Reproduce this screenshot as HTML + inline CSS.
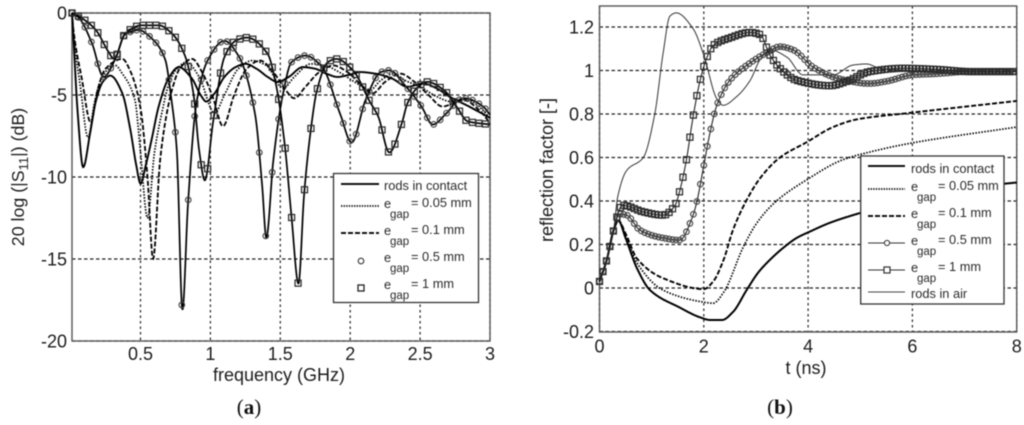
<!DOCTYPE html>
<html lang="en">
<head>
<meta charset="utf-8">
<title>S11 and reflection factor charts</title>
<style>
html,body{margin:0;padding:0;background:#fff;width:1024px;height:425px;overflow:hidden}
svg{display:block;position:absolute;left:0;top:0;filter:blur(.5px)}
text{font-family:"Liberation Sans",sans-serif;fill:#1c1c1c}
.leg{font-size:12.8px;fill:#2a2a2a}
.sub{font-size:11.5px;fill:#2a2a2a}
.cap{font-family:"Liberation Serif",serif;font-size:21px;fill:#111}
</style>
</head>
<body>
<svg id="figure" width="1024" height="425" viewBox="0 0 1024 425" xmlns="http://www.w3.org/2000/svg">
  <g id="chartA"></g>
  <g id="chartB"></g>

  <text transform="translate(24,177) rotate(-90)" text-anchor="middle" font-size="17.8">20 log (|S<tspan font-size="13" dy="4">11</tspan><tspan dy="-4">|) (dB)</tspan></text>
  <text x="279" y="381" text-anchor="middle" font-size="18">frequency (GHz)</text>
  <text class="cap" x="249" y="414" text-anchor="middle">(<tspan font-weight="bold">a</tspan>)</text>

  <text transform="translate(553,170) rotate(-90)" text-anchor="middle" font-size="18">reflection factor [-]</text>
  <text x="806" y="374" text-anchor="middle" font-size="18">t (ns)</text>
  <text class="cap" x="780" y="414" text-anchor="middle">(<tspan font-weight="bold">b</tspan>)</text>

  <g>
    <rect x="333.5" y="173.5" width="145" height="129" fill="#fff" stroke="#333" stroke-width="1.3"/>
    <g>
      <line x1="341" x2="379" y1="184" y2="184" stroke="#111" stroke-width="2"/>
      <text class="leg" x="384" y="190">rods in contact</text>
    </g>
    <g>
      <line x1="341" x2="379" y1="206" y2="206" stroke="#111" stroke-width="1.8" stroke-dasharray="1.4 1.2"/>
      <text class="leg" x="384" y="208">e</text><text class="sub" x="390" y="218">gap</text><text class="leg" x="411" y="207">= 0.05 mm</text>
    </g>
    <g>
      <line x1="341" x2="379" y1="233" y2="233" stroke="#111" stroke-width="2" stroke-dasharray="5 2"/>
      <text class="leg" x="384" y="235">e</text><text class="sub" x="390" y="245">gap</text><text class="leg" x="411" y="234">= 0.1 mm</text>
    </g>
    <g>
      <circle cx="361" cy="261" r="2.8" fill="none" stroke="#333" stroke-width="1.1"/>
      <text class="leg" x="384" y="262">e</text><text class="sub" x="390" y="272">gap</text><text class="leg" x="411" y="261">= 0.5 mm</text>
    </g>
    <g>
      <rect x="358" y="285" width="6" height="6" fill="none" stroke="#222" stroke-width="1.3"/>
      <text class="leg" x="384" y="289">e</text><text class="sub" x="390" y="299">gap</text><text class="leg" x="411" y="288">= 1 mm</text>
    </g>
  </g>

  <g>
    <rect x="860.7" y="156" width="143.3" height="148" fill="#fff" stroke="#333" stroke-width="1.3"/>
    <g>
      <line x1="868" x2="905" y1="166" y2="166" stroke="#111" stroke-width="2"/>
      <text class="leg" x="911" y="173">rods in contact</text>
    </g>
    <g>
      <line x1="868" x2="905" y1="189" y2="189" stroke="#111" stroke-width="1.8" stroke-dasharray="1.4 1.2"/>
      <text class="leg" x="911" y="191">e</text><text class="sub" x="917" y="201">gap</text><text class="leg" x="938" y="190">= 0.05 mm</text>
    </g>
    <g>
      <line x1="868" x2="905" y1="216" y2="216" stroke="#111" stroke-width="2" stroke-dasharray="5 2"/>
      <text class="leg" x="911" y="218">e</text><text class="sub" x="917" y="228">gap</text><text class="leg" x="938" y="217">= 0.1 mm</text>
    </g>
    <g>
      <line x1="868" x2="905" y1="243" y2="243" stroke="#333" stroke-width="1"/>
      <circle cx="887" cy="243" r="2.6" fill="#fff" stroke="#333" stroke-width="1"/>
      <text class="leg" x="911" y="245">e</text><text class="sub" x="917" y="255">gap</text><text class="leg" x="938" y="244">= 0.5 mm</text>
    </g>
    <g>
      <line x1="868" x2="905" y1="270" y2="270" stroke="#333" stroke-width="1"/>
      <rect x="884" y="267" width="6" height="6" fill="#fff" stroke="#333" stroke-width="1.2"/>
      <text class="leg" x="911" y="272">e</text><text class="sub" x="917" y="282">gap</text><text class="leg" x="938" y="271">= 1 mm</text>
    </g>
    <g>
      <line x1="868" x2="905" y1="292" y2="292" stroke="#444" stroke-width="1"/>
      <text class="leg" x="911" y="298">rods in air</text>
    </g>
  </g>
</svg>
<script>
// ---------- Chart (a) data ----------
const aXTicks = [0.5, 1, 1.5, 2, 2.5, 3];
const aYTicks = [0, -5, -10, -15, -20];
const aFreqContact = [.01,.02,.05,.09,.14,.18,.23,.284,.37,.427,.47,.5,.54,.58,.63,.7,.773,.868,.93,.97,1.03,1.1,1.18,1.25,1.33,1.41,1.48,1.56,1.66,1.75,1.83,1.91,2.0,2.07,2.18,2.3,2.41,2.52,2.62,2.71,2.85,3.0];
const aDbContact = [0,-1.5,-6,-9.4,-7.3,-5.4,-4.2,-3.82,-4.9,-7.1,-9.3,-10.4,-9.2,-7.7,-5.7,-4,-3.3,-4,-5,-5.4,-4.9,-3.9,-3.3,-3.1,-3.4,-3.9,-4.2,-3.9,-3.3,-3.4,-3.7,-3.9,-3.75,-3.6,-3.7,-4,-4.5,-4.3,-4.6,-5.1,-5.7,-6.4];
const aFreqGap005 = [.01,.02,.07,.125,.17,.23,.32,.37,.46,.5,.55,.6,.66,.7,.76,.83,.92,1.03,1.1,1.2,1.3,1.4,1.52,1.6,1.72,1.82,1.92,2.05,2.14,2.22,2.31,2.39,2.5,2.62,2.72,2.82,2.92,3];
const aDbGap005 = [0,-1.2,-4.5,-7.6,-5.5,-3.8,-3.2,-3.7,-5.3,-8.5,-12.5,-8.5,-5.8,-4.4,-3.4,-3,-3.9,-6.1,-5,-3.4,-2.9,-3.2,-4.6,-3.9,-3.1,-3.2,-3.6,-4.3,-4.7,-4.1,-3.7,-4.1,-4.5,-5.1,-5.4,-5.2,-5.7,-6.4];
const aFreqGap01 = [.01,.02,.08,.145,.19,.25,.37,.43,.5,.55,.59,.64,.68,.725,.78,.87,.94,1.02,1.09,1.17,1.26,1.355,1.45,1.53,1.6,1.68,1.78,1.88,1.98,2.08,2.16,2.25,2.36,2.46,2.56,2.66,2.74,2.81,2.92,3];
const aDbGap01 = [0,-1,-4,-6.7,-4.8,-3.4,-2.8,-3.6,-5.8,-10,-15,-9,-6.5,-4.7,-3.4,-2.8,-3.6,-5.2,-6.9,-5,-3.4,-2.9,-3.6,-4.6,-5.2,-4.5,-3.6,-3.2,-3.6,-4.4,-4.9,-4.2,-3.7,-4.2,-5,-5.7,-5.5,-5.3,-5.9,-6.7];
const aFreqGap05 = [.01,.06,.153,.236,.32,.39,.487,.58,.677,.72,.76,.8,.84,.9,.98,1.1,1.2,1.32,1.37,1.4,1.45,1.52,1.58,1.68,1.8,1.93,2.01,2.11,2.22,2.28,2.4,2.51,2.59,2.69,2.78,2.82,2.95,3];
const aDbGap05 = [0,-.3,-1.85,-3.9,-2.8,-1.3,-1.04,-1.55,-2.85,-5.2,-8.4,-18.1,-11.6,-5.5,-2.9,-1.7,-2.6,-6.2,-10.5,-13.7,-9,-4.9,-3,-2.6,-3.3,-6.2,-7.9,-5.3,-3.6,-3.5,-4.5,-5.7,-6.8,-6.1,-5.3,-5.2,-5.7,-6.2];
const aFreqGap1 = [.01,.058,.177,.27,.31,.39,.51,.63,.725,.82,.88,.92,.96,1.02,1.1,1.18,1.26,1.41,1.47,1.53,1.58,1.63,1.67,1.72,1.76,1.84,1.9,2.02,2.14,2.2,2.28,2.37,2.41,2.5,2.55,2.67,2.76,2.84,3];
const aDbGap1 = [0,-.2,-1,-2.35,-2.8,-1.25,-.75,-.75,-1.25,-2.65,-5,-8.4,-10.2,-6.6,-2.7,-1.7,-1.5,-2.5,-4.4,-7.9,-12.4,-16.5,-11.1,-7,-4.8,-3,-2.8,-3.5,-5.4,-6.3,-8.5,-6.7,-5.5,-4.4,-4.2,-4.7,-5.7,-6.6,-6.8];

// ---------- Chart (b) data ----------
const bXTicks = [0, 2, 4, 6, 8];
const bYTicks = [-0.2, 0, 0.2, 0.4, 0.6, 0.8, 1, 1.2];
const bYTickLabels = ["-0.2", "0", "0.2", "0.4", "0.6", "0.8", "1", "1.2"];
const bTimeContact = [0,.14,.27,.36,.5,.72,.97,1.54,1.93,2.12,2.35,2.56,2.82,3.04,3.27,3.52,3.78,4.04,4.42,5,6,7,7.6,8];
const bValContact = [.03,.13,.265,.31,.23,.09,-.01,-.09,-.135,-.147,-.147,-.11,-.01,.07,.13,.184,.23,.26,.3,.345,.41,.45,.475,.485];
const bTimeGap005 = [0,.14,.27,.36,.5,.72,1.22,2,2.18,2.38,2.76,3.02,3.37,3.97,4.67,5.18,5.95,8];
const bValGap005 = [.03,.13,.265,.31,.24,.115,-.01,-.065,-.07,-.02,.19,.3,.395,.497,.59,.625,.665,.74];
const bTimeGap01 = [0,.14,.27,.36,.5,.72,1.22,2,2.18,2.38,2.56,2.79,3.08,3.46,3.97,4.48,4.93,5.95,8];
const bValGap01 = [.03,.13,.265,.31,.25,.135,.045,-.005,.03,.13,.267,.39,.505,.6,.67,.74,.775,.805,.86];
const bTimeGap05 = [0,.14,.27,.38,.52,.78,1.22,1.54,1.78,1.86,1.99,2.12,2.25,2.5,2.89,3.23,3.46,3.71,4.1,4.55,5.18,5.5,6.01,6.47,7.1,8];
const bValGap05 = [.03,.13,.265,.34,.335,.265,.23,.22,.325,.39,.55,.715,.84,.955,1.035,1.085,1.11,1.095,1.015,.965,.94,.95,.98,.985,.995,.995];
const bTimeGap1 = [0,.14,.27,.4,.45,.84,1.22,1.45,1.52,1.66,1.79,1.93,2.06,2.18,2.5,2.89,3.08,3.27,3.46,3.78,4.42,4.74,5.18,5.82,6.47,7.1,8];
const bValGap1 = [.03,.13,.265,.37,.38,.35,.335,.38,.43,.58,.78,.955,1.06,1.115,1.15,1.175,1.165,1.07,1.01,.955,.93,.95,.995,1.01,1.005,.995,.995];
const bTimeAir = [0,.14,.27,.35,.52,.84,1.06,1.22,1.35,1.47,1.8,2,2.25,2.37,2.63,2.89,3.08,3.27,3.6,3.9,4.48,4.86,5.12,5.38,5.95,8];
const bValAir = [.03,.13,.265,.42,.54,.6,.8,1.08,1.25,1.265,1.19,1.07,.87,.84,.88,.955,1.05,1.095,1.06,.98,.98,1.025,1.03,1.01,1,.995];

// ---------- Helpers ----------
const NS = 'http://www.w3.org/2000/svg';
function make(tag, parent, attrs) {
  const el = document.createElementNS(NS, tag);
  for (const k in attrs) el.setAttribute(k, attrs[k]);
  parent.appendChild(el);
  return el;
}
function pchip(xs, ys) {
  const n = xs.length, h = [], d = [], m = new Array(n);
  for (let i = 0; i < n - 1; i++) { h[i] = xs[i+1] - xs[i]; d[i] = (ys[i+1] - ys[i]) / h[i]; }
  m[0] = d[0]; m[n-1] = d[n-2];
  for (let i = 1; i < n - 1; i++) {
    if (d[i-1] * d[i] <= 0) m[i] = 0;
    else {
      const w1 = 2*h[i] + h[i-1], w2 = h[i] + 2*h[i-1];
      m[i] = (w1 + w2) / (w1 / d[i-1] + w2 / d[i]);
    }
  }
  return function (x) {
    let i = 0;
    while (i < n - 2 && x > xs[i+1]) i++;
    const t = (x - xs[i]) / h[i], t2 = t*t, t3 = t2*t;
    return (2*t3 - 3*t2 + 1)*ys[i] + (t3 - 2*t2 + t)*h[i]*m[i] + (-2*t3 + 3*t2)*ys[i+1] + (t3 - t2)*h[i]*m[i+1];
  };
}
function drawCurve(group, sx, sy, xs, ys, style) {
  const f = pchip(xs, ys), a = xs[0], b = xs[xs.length - 1];
  let d = '';
  const N = 900;
  for (let i = 0; i <= N; i++) {
    const x = a + (b - a) * i / N;
    d += (i ? 'L' : 'M') + sx(x).toFixed(2) + ' ' + sy(f(x)).toFixed(2);
  }
  const path = make('path', group, {d: d, fill: 'none', stroke: style.color, 'stroke-width': style.width, 'stroke-dasharray': style.dash || 'none'});
  
  
  if (style.marker) {
    for (let x = a; x <= b + 1e-6; x += style.step) {
      const px = sx(x), py = sy(f(x));
      let mk;
      if (style.marker === 'circle') {
        mk = make('circle', group, {cx: px, cy: py, r: 2.8, fill: 'none', stroke: '#444', 'stroke-width': 1.15});
      } else {
        mk = make('rect', group, {x: px - 3, y: py - 3, width: 6, height: 6, fill: 'none', stroke: '#2a2a2a', 'stroke-width': 1.25});
      }
      
      
    }
  }
}
function drawFrame(root, box, sx, sy, xTicks, yTicks, yLabels, xLabelY, yLabelX) {
  for (const v of xTicks) {
    const line = make('line', root, {x1: sx(v), x2: sx(v), y1: box.top, y2: box.bottom, stroke: '#222', 'stroke-width': 1.2, 'stroke-dasharray': '2.5 3'});
    
    
    const label = make('text', root, {x: sx(v), y: xLabelY, 'text-anchor': 'middle', 'font-size': 18});
    
    
    label.textContent = String(v);
  }
  yTicks.forEach(function (v, i) {
    const line = make('line', root, {x1: box.left, x2: box.right, y1: sy(v), y2: sy(v), stroke: '#222', 'stroke-width': 1.2, 'stroke-dasharray': '3.5 2.5'});
    
    
    const label = make('text', root, {x: yLabelX, y: sy(v) + 6.5, 'text-anchor': 'end', 'font-size': 18});
    
    
    label.textContent = yLabels ? yLabels[i] : String(v);
  });
  const frame = make('rect', root, {x: box.left, y: box.top, width: box.right - box.left, height: box.bottom - box.top, fill: 'none', stroke: '#555', 'stroke-width': 1.4});
  
  
}

// ---------- Chart (a) ----------
const aBox = {left: 72, right: 490, top: 13, bottom: 341};
const aX = function (f) { return aBox.left + (f - 0.01) * (aBox.right - aBox.left) / 2.99; };
const aY = function (v) { return aBox.top - v * (aBox.bottom - aBox.top) / 20; };
const rootA = document.getElementById('chartA');
drawFrame(rootA, aBox, aX, aY, aXTicks, aYTicks, null, 360, 67);
const aStep = 0.0462;
drawCurve(rootA, aX, aY, aFreqGap005, aDbGap005, {color: '#000', width: 1.7, dash: '1.5 1.5'});
drawCurve(rootA, aX, aY, aFreqGap01, aDbGap01, {color: '#000', width: 1.8, dash: '5 2'});
drawCurve(rootA, aX, aY, aFreqContact, aDbContact, {color: '#000', width: 1.9});
drawCurve(rootA, aX, aY, aFreqGap05, aDbGap05, {color: '#000', width: 1.7, marker: 'circle', step: aStep});
drawCurve(rootA, aX, aY, aFreqGap1, aDbGap1, {color: '#000', width: 1.7, marker: 'square', step: aStep});

// ---------- Chart (b) ----------
const bBox = {left: 599.5, right: 1016.7, top: 6, bottom: 332};
const bX = function (t) { return bBox.left + t * (bBox.right - bBox.left) / 8; };
const bY = function (v) { return 288 - v * 217.5; };
const rootB = document.getElementById('chartB');
drawFrame(rootB, bBox, bX, bY, bXTicks, bYTicks, bYTickLabels, 352.5, 594);
const bStep = 0.0667;
drawCurve(rootB, bX, bY, bTimeAir, bValAir, {color: '#333', width: 1});
drawCurve(rootB, bX, bY, bTimeContact, bValContact, {color: '#000', width: 2});
drawCurve(rootB, bX, bY, bTimeGap005, bValGap005, {color: '#000', width: 1.7, dash: '1.5 1.5'});
drawCurve(rootB, bX, bY, bTimeGap01, bValGap01, {color: '#000', width: 1.9, dash: '5 2'});
drawCurve(rootB, bX, bY, bTimeGap05, bValGap05, {color: '#222', width: 1.1, marker: 'circle', step: bStep});
drawCurve(rootB, bX, bY, bTimeGap1, bValGap1, {color: '#222', width: 1.1, marker: 'square', step: bStep});
</script>
</body>
</html>
